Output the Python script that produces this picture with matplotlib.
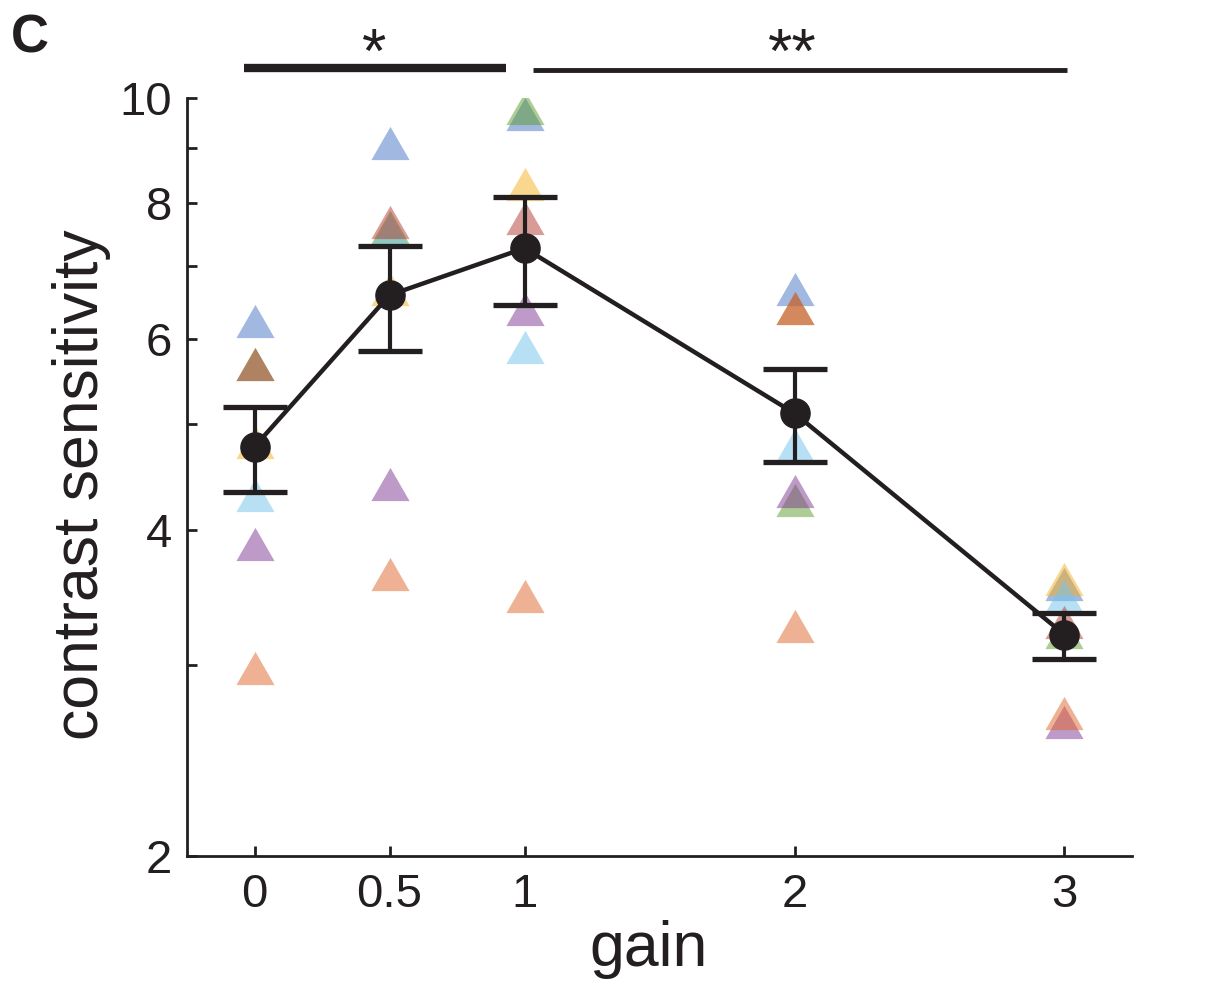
import numpy as np
import matplotlib
matplotlib.use("Agg")
import matplotlib.pyplot as plt
from matplotlib.ticker import FixedLocator, NullFormatter

plt.rcParams["font.family"] = ["Liberation Sans", "DejaVu Sans"]

# data
gains = [0, 0.5, 1, 2, 3]
mean_cs = [4.77, 6.58, 7.27, 5.12, 3.20]
err_hi = [5.19, 7.30, 8.10, 5.62, 3.35]
err_lo = [4.33, 5.84, 6.44, 4.62, 3.04]

# individual subjects (drawing order matters for the overlaps)
subj_blue = [6.23, 9.08, 9.66, 6.67, 3.56]
subj_yellow = [4.82, 6.67, 8.33, 6.40, 3.60]
subj_green = [5.69, 7.60, 9.80, 4.26, 3.22]
subj_lightblue = [4.30, 7.55, 5.89, 4.79, 3.47]
subj_red = [5.69, 7.69, 7.75, 6.40, 3.29]
subj_purple = [3.88, 4.41, 6.39, 4.34, 2.66]
subj_salmon = [2.98, 3.64, 3.47, 3.26, 2.71]

subjects = [subj_blue, subj_yellow, subj_green, subj_lightblue,
            subj_red, subj_purple, subj_salmon]
subj_colors = ["#4472c4", "#f5b01e", "#5f9b2d", "#73c3eb",
               "#b03a2e", "#7d3791", "#e1652a"]

ytick_labels = ["2", "4", "6", "8", "10"]
xtick_labels = ["0", "0.5", "1", "2", "3"]

INK = "#231f20"

fig = plt.figure(figsize=(12.21, 9.84), dpi=100)
ax = fig.add_axes([0.1532, 0.1301, 0.7739, 0.7703])

# wide, slightly flat triangle
tri = [(0, 0.87), (-1, -0.87), (1, -0.87), (0, 0.87)]

for vals, col in zip(subjects, subj_colors):
    ax.plot(gains, vals, ls="none", marker=tri, ms=27.5, mfc=col, mec="none",
            alpha=0.5, zorder=2)

yerr = [np.array(mean_cs) - np.array(err_lo), np.array(err_hi) - np.array(mean_cs)]
ax.errorbar(gains, mean_cs, yerr=yerr, fmt="none", ecolor=INK, elinewidth=3,
            capsize=23, capthick=3.8, zorder=4)
ax.plot(gains, mean_cs, "-", color=INK, lw=3.2, zorder=5)
ax.plot(gains, mean_cs, "o", color=INK, ms=21, zorder=6)

ax.set_yscale("log")
ax.set_ylim(2, 10)
ax.set_xlim(-0.25, 3.25)
ax.yaxis.set_major_locator(FixedLocator([float(t) for t in ytick_labels]))
ax.yaxis.set_minor_locator(FixedLocator([3, 5, 7, 9]))
ax.yaxis.set_minor_formatter(NullFormatter())
ax.set_yticklabels(ytick_labels)
ax.set_xticks(gains)
ax.set_xticklabels(xtick_labels)

for side in ["top", "right"]:
    ax.spines[side].set_visible(False)
for side in ["left", "bottom"]:
    ax.spines[side].set_linewidth(2)
    ax.spines[side].set_color(INK)

ax.tick_params(which="both", direction="in", length=7, width=2, color=INK,
               labelsize=34, labelcolor=INK)
ax.tick_params(axis="y", pad=11)
ax.tick_params(axis="x", pad=12)

ax.set_ylabel("contrast sensitivity", fontsize=45, color=INK)
ax.yaxis.set_label_coords(-0.08, 0.49)
ax.set_xlabel("gain", fontsize=45, color=INK)
ax.xaxis.set_label_coords(0.488, -0.085)

# significance bars
trans = ax.get_xaxis_transform()
ax.plot([-0.04, 0.933], [1.0396, 1.0396], transform=trans, clip_on=False,
        lw=6, color=INK, solid_capstyle="butt")
ax.plot([1.03, 3.01], [1.037, 1.037], transform=trans, clip_on=False,
        lw=3.5, color=INK, solid_capstyle="butt")
ax.text(0.444, 1.035, "*", transform=trans, ha="center", va="baseline",
        fontsize=45, color=INK)
ax.text(1.993, 1.035, "**", transform=trans, ha="center", va="baseline",
        fontsize=45, color=INK)

fig.text(0.009, 0.947, "C", fontsize=38, fontweight="bold", color=INK,
         ha="left", va="baseline")

fig.savefig("out.png", dpi=100)
